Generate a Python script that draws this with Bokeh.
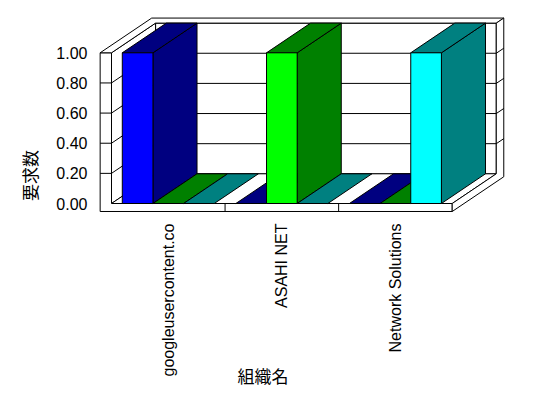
import math
from bokeh.plotting import figure
from bokeh.models import Range1d, ColumnDataSource
from bokeh.core.properties import value
from bokeh.embed import file_html
from bokeh.resources import INLINE

# ---------------- data ----------------
categories = ["googleusercontent.co", "ASAHI NET", "Network Solutions"]
blue_values = [1.0, 0.0, 0.0]
green_values = [0.0, 1.0, 0.0]
cyan_values = [0.0, 0.0, 1.0]
y_ticks = [0.0, 0.2, 0.4, 0.6, 0.8, 1.0]
y_tick_labels = ["0.00", "0.20", "0.40", "0.60", "0.80", "1.00"]
y_title = "要求数"
x_title = "組織名"

series_values = [blue_values, green_values, cyan_values]
front_colors = ["#0000FF", "#00FF00", "#00FFFF"]
dark_colors = ["#000080", "#008000", "#008080"]

# ---------------- geometry (3D projection) ----------------
W, H = 548, 398
X0_PX, Y0_PX = 111.0, 203.0                # where x=0, v=0 land (px)
PX_X = 113.57                              # px per category
PX_Y = 150.7                               # px per value unit
DX, DY = 0.388, 0.197                      # projection of one unit of depth
TX, TV = 0.100, 0.053                      # wall / floor thickness
DOUT = 1.17                                # outer depth of back wall
NC = len(categories)
VMAX = max(y_ticks)
BAR_W = 0.27
BAR_OFF = (1 - BAR_W * 3) / 2


def dx_(px):
    return (px - X0_PX) / PX_X


def dy_(py):
    return (Y0_PX - py) / PX_Y


def P(x, v, d):
    return (x + d * DX, v + d * DY)


def poly(pts):
    xs, ys = zip(*[P(*pt) for pt in pts])
    return list(xs), list(ys)


faces_x, faces_y, faces_fill = [], [], []


def add_face(pts, color):
    xs, ys = poly(pts)
    faces_x.append(xs)
    faces_y.append(ys)
    faces_fill.append(color)


# walls and floor (white)
add_face([(0, 0, 1), (NC, 0, 1), (NC, VMAX, 1), (0, VMAX, 1)], "white")   # back wall
add_face([(0, 0, 0), (0, VMAX, 0), (0, VMAX, 1), (0, 0, 1)], "white")     # left wall inner
add_face([(0, 0, 0), (NC, 0, 0), (NC, 0, 1), (0, 0, 1)], "white")         # floor top
add_face([(-TX, -TV, 0), (NC, -TV, 0), (NC, 0, 0), (0, 0, 0), (0, VMAX, 0), (-TX, VMAX, 0)], "white")  # front L
add_face([(-TX, VMAX, 0), (0, VMAX, 0), (0, VMAX, 1), (NC, VMAX, 1), (NC, VMAX, DOUT), (-TX, VMAX, DOUT)], "white")  # top L
add_face([(NC, 0, 0), (NC, -TV, 0), (NC, -TV, DOUT), (NC, VMAX, DOUT), (NC, VMAX, 1), (NC, 0, 1)], "white")  # right end

n_walls = len(faces_x)

# bars (left to right so later fronts cover earlier sides)
for i in range(NC):
    for s, vals in enumerate(series_values):
        v = vals[i]
        x0 = i + BAR_OFF + s * BAR_W
        x1 = x0 + BAR_W
        if v > 0:
            add_face([(x1, 0, 0), (x1, v, 0), (x1, v, 1), (x1, 0, 1)], dark_colors[s])
        add_face([(x0, v, 0), (x1, v, 0), (x1, v, 1), (x0, v, 1)], dark_colors[s])
        if v > 0:
            add_face([(x0, 0, 0), (x1, 0, 0), (x1, v, 0), (x0, v, 0)], front_colors[s])

# grid lines
grid_x, grid_y = [], []
for v in y_ticks:
    if v <= 0 or v >= VMAX:
        continue
    for seg in ([(-TX, v, 0), (0, v, 0)],
                [(0, v, 0), (0, v, 1)],
                [(0, v, 1), (NC, v, 1)],
                [(NC, v, 1), (NC, v, DOUT)]):
        xs, ys = poly(seg)
        grid_x.append(xs)
        grid_y.append(ys)
for k in range(1, NC):
    xs, ys = poly([(k, -TV, 0), (k, 0, 0)])
    grid_x.append(xs)
    grid_y.append(ys)

# ---------------- figure ----------------
p = figure(width=W, height=H, output_backend="svg", toolbar_location=None,
           x_range=Range1d(dx_(0), dx_(W)), y_range=Range1d(dy_(H), dy_(0)),
           x_axis_location=None, y_axis_location=None,
           min_border=0, min_border_left=0, min_border_right=0,
           min_border_top=0, min_border_bottom=0)
p.background_fill_color = "white"
p.border_fill_color = "white"
p.outline_line_color = None
p.grid.visible = False

wall_src = ColumnDataSource(dict(xs=faces_x[:n_walls], ys=faces_y[:n_walls], c=faces_fill[:n_walls]))
p.patches("xs", "ys", source=wall_src, fill_color="c", line_color="black", line_width=1)

p.multi_line(grid_x, grid_y, line_color="black", line_width=1)

bar_src = ColumnDataSource(dict(xs=faces_x[n_walls:], ys=faces_y[n_walls:], c=faces_fill[n_walls:]))
p.patches("xs", "ys", source=bar_src, fill_color="c", line_color="black", line_width=1)

# tick labels (value axis)
p.text(x=[dx_(87)] * len(y_ticks), y=y_ticks, text=y_tick_labels,
       text_align="right", text_baseline="middle",
       text_font=value("Liberation Sans"), text_font_size="16px", text_color="black")

# tick labels (category axis), vertical, reading bottom to top
p.text(x=[i + 0.5 for i in range(NC)], y=[dy_(223)] * NC, text=categories,
       angle=math.pi / 2, text_align="right", text_baseline="middle",
       text_font=value("Liberation Sans"), text_font_size="16px", text_color="black")

# axis titles
p.text(x=[dx_(28.5)], y=[dy_(175)], text=[y_title], angle=math.pi / 2,
       text_align="center", text_baseline="middle",
       text_font=value("Noto Sans CJK JP"), text_font_size="17px", text_color="black")
p.text(x=[dx_(262.5)], y=[dy_(375)], text=[x_title],
       text_align="center", text_baseline="middle",
       text_font=value("Noto Sans CJK JP"), text_font_size="17px", text_color="black")

open("out.html", "w").write(file_html(p, INLINE))
